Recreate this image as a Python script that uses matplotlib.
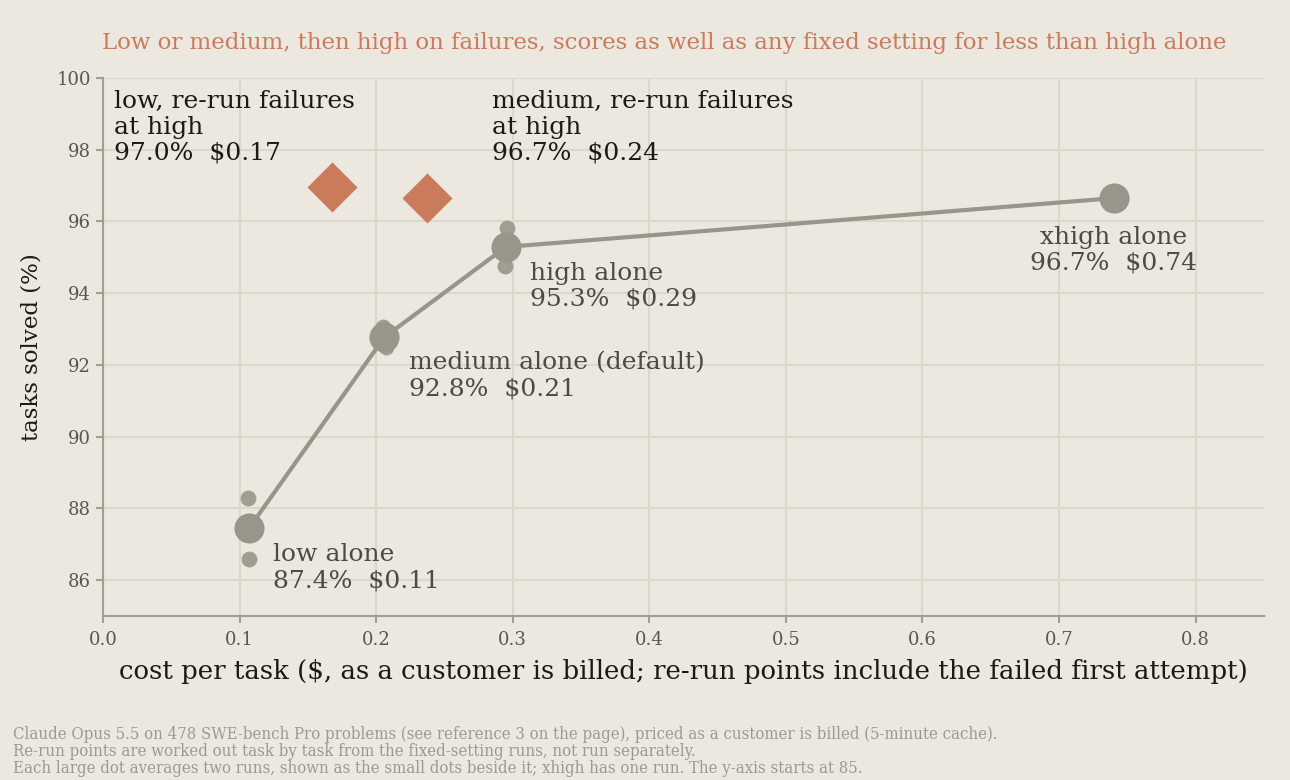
import matplotlib.pyplot as plt

# fixed settings: mean of runs
fixed_names = ["low", "medium", "high", "xhigh"]
fixed_cost = [0.107, 0.206, 0.295, 0.740]
fixed_score = [87.45, 92.77, 95.29, 96.65]

# individual runs (small dots)
run_cost = [0.106, 0.107, 0.205, 0.207, 0.296, 0.294]
run_score = [88.3, 86.6, 93.05, 92.5, 95.82, 94.76]

# re-run failures at high
rerun_cost = [0.168, 0.237]
rerun_score = [96.97, 96.65]

bg = "#ece8e0"
grey = "#9a958a"
orange = "#c97b5b"

plt.rcParams["font.family"] = "DejaVu Serif"

fig = plt.figure(figsize=(12.9, 7.8), dpi=100, facecolor=bg)
ax = fig.add_axes([0.0798, 0.2103, 0.9, 0.6897])
ax.set_facecolor(bg)

ax.plot(fixed_cost, fixed_score, color=grey, lw=3, zorder=2)
ax.scatter(run_cost, run_score, s=130, color="#a29d92", zorder=3, linewidths=0)
ax.scatter(fixed_cost, fixed_score, s=470, color=grey, zorder=4, linewidths=0)
ax.scatter(rerun_cost, rerun_score, marker="D", s=650, color=orange, zorder=4, linewidths=0)

lab_kw = dict(fontsize=18, color="#4e4a43", linespacing=1.17, va="top")
ax.text(0.1245, 87.03, "low alone\n87.4%  $0.11", **lab_kw)
ax.text(0.224, 92.38, "medium alone (default)\n92.8%  $0.21", **lab_kw)
ax.text(0.3126, 94.88, "high alone\n95.3%  $0.29", **lab_kw)
ax.text(0.740, 95.88, "xhigh alone\n96.7%  $0.74", ha="center", **lab_kw)

top_kw = dict(fontsize=18, color="#1c1a17", linespacing=1.17, va="top")
ax.text(0.008, 99.67, "low, re-run failures\nat high\n97.0%  $0.17", **top_kw)
ax.text(0.285, 99.67, "medium, re-run failures\nat high\n96.7%  $0.24", **top_kw)

ax.set_xlim(0, 0.85)
ax.set_ylim(85, 100)
ax.set_xticks([0, 0.1, 0.2, 0.3, 0.4, 0.5, 0.6, 0.7, 0.8])
ax.set_xticklabels(["0.0", "0.1", "0.2", "0.3", "0.4", "0.5", "0.6", "0.7", "0.8"])
ax.set_yticks(range(86, 101, 2))
ax.grid(True, color="#dcd7cb", lw=1.5, zorder=0)
ax.set_axisbelow(True)
for s in ["top", "right"]:
    ax.spines[s].set_visible(False)
for s in ["left", "bottom"]:
    ax.spines[s].set_color("#a39e92")
    ax.spines[s].set_linewidth(1.5)
ax.tick_params(colors="#a39e92", labelcolor="#5a5650", labelsize=13, width=1.5, length=5)
ax.tick_params(axis="x", pad=6)

ax.set_xlabel("cost per task ($, as a customer is billed; re-run points include the failed first attempt)",
              fontsize=18.7, color="#1c1a17", labelpad=7)
ax.set_ylabel("tasks solved (%)", fontsize=16.5, color="#1c1a17", labelpad=10)

fig.text(0.515, 0.945, "Low or medium, then high on failures, scores as well as any fixed setting for less than high alone",
         ha="center", va="center", fontsize=16.5, color=orange)

fig.text(0.01, 0.069,
         "Claude Opus 5.5 on 478 SWE-bench Pro problems (see reference 3 on the page), priced as a customer is billed (5-minute cache).\n"
         "Re-run points are worked out task by task from the fixed-setting runs, not run separately.\n"
         "Each large dot averages two runs, shown as the small dots beside it; xhigh has one run. The y-axis starts at 85.",
         ha="left", va="top", fontsize=12, color="#9e998e", fontstretch="condensed", linespacing=0.98)

fig.savefig("out.png", dpi=100, facecolor=bg)
